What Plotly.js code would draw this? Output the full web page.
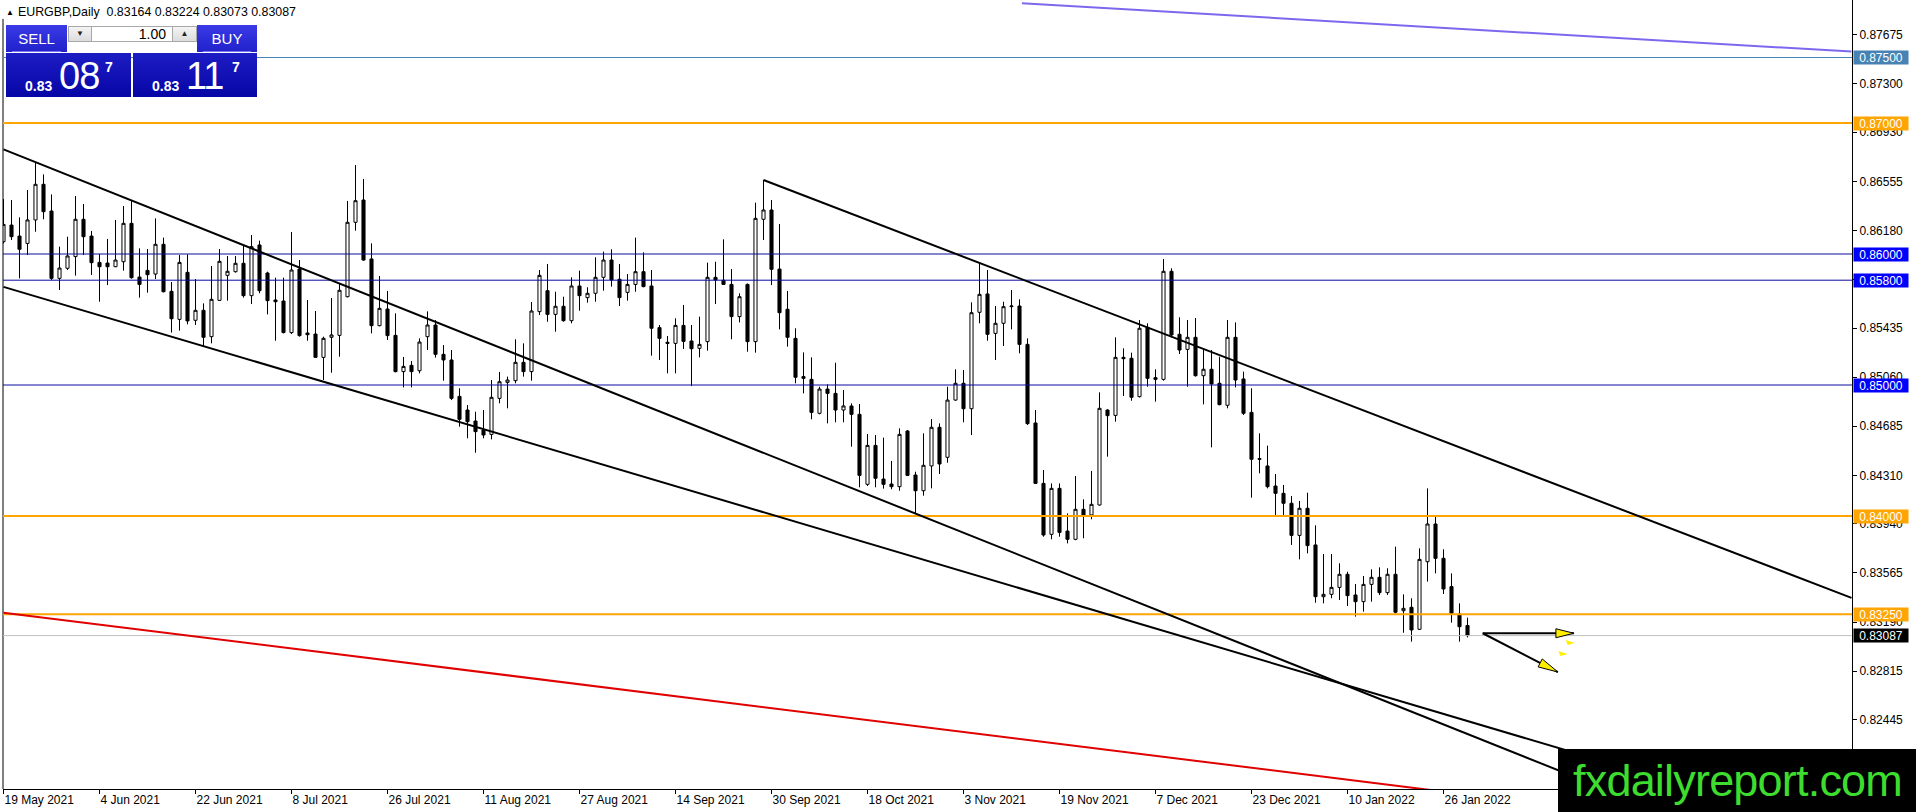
<!DOCTYPE html>
<html>
<head>
<meta charset="utf-8">
<script src="https://cdn.plot.ly/plotly-3.0.1.min.js"></script>
<style>
  body { margin: 0; background: #fff; }
  #wrap { position: relative; width: 1916px; height: 812px; overflow: hidden; font-family: 'Liberation Sans', Arial, sans-serif; }
  #chart { position: absolute; left: 0; top: 0; width: 1916px; height: 812px; }
  .abs { position: absolute; }
  #hdr { left: 6px; top: 5px; font-size: 12.4px; color: #000; white-space: pre; line-height: 14px; }
  #hdr .tri { font-size: 8px; vertical-align: 1px; margin-right: 4px; }
  .topbtn { top: 25px; height: 27px; line-height: 27px; color: #fff; font-size: 15px; text-align: center;
            background: linear-gradient(#3a3ae6, #2222cc); }
  .sep { position: absolute; left: 6px; right: 6px; bottom: 0; height: 1px; background: #7a7af2; }
  .spin { top: 26px; height: 16px; background: linear-gradient(#f4f4f4, #dcdcdc); border: 1px solid #a8a8a8; box-sizing: border-box;
          font-size: 8px; text-align: center; line-height: 14px; color: #222; }
  #lot { top: 26px; height: 16px; left: 92px; width: 80px; background: #fff; border-top: 1px solid #a8a8a8; border-bottom: 1px solid #a8a8a8;
         box-sizing: border-box; font-size: 14px; line-height: 14px; text-align: right; padding-right: 6px; color: #000; }
  .pbox { top: 53px; height: 44px; background: linear-gradient(#1c1cc4, #0606a6); color: #fff; }
  .small { position: absolute; font-weight: bold; font-size: 14px; top: 25px; }
  .big { position: absolute; font-size: 38px; top: 2px; letter-spacing: -1px; }
  .sup { position: absolute; font-weight: bold; font-size: 14px; top: 6px; }
  #logo { left: 1558px; top: 749px; width: 358px; height: 63px; background: #000; color: #3ddc2e;
          font-size: 45px; letter-spacing: -0.8px; line-height: 63px; padding-left: 15px; box-sizing: border-box; white-space: nowrap; }
</style>
</head>
<body>
<div id="wrap">
  <div id="chart"></div>
  <div id="hdr" class="abs"></div>
  <div class="abs topbtn" style="left:6px;width:61px;">SELL<div class="sep"></div></div>
  <div class="abs spin" style="left:68px;width:24px;">&#9660;</div>
  <div id="lot" class="abs">1.00</div>
  <div class="abs spin" style="left:172px;width:25px;">&#9650;</div>
  <div class="abs topbtn" style="left:197px;width:60px;">BUY<div class="sep"></div></div>
  <div class="abs pbox" style="left:6px;width:125px;">
    <span class="small" style="left:19px;" id="bidA"></span>
    <span class="big" style="left:53px;" id="bidB"></span>
    <span class="sup" style="left:99px;" id="bidC"></span>
  </div>
  <div class="abs pbox" style="left:133px;width:124px;">
    <span class="small" style="left:19px;" id="askA"></span>
    <span class="big" style="left:53px;" id="askB"></span>
    <span class="sup" style="left:99px;" id="askC"></span>
  </div>
  <div id="logo" class="abs">fxdailyreport.com</div>
</div>
<script>
// ---------------- data (EURGBP daily, 19 May 2021 .. 31 Jan 2022) ----------------
const symbol = 'EURGBP,Daily';
const openP = [
0.86094,0.86221,0.86137,0.86081,0.86260,0.86532,0.86328,0.85814,0.85891,0.85980,
0.86265,0.86137,0.85936,0.85931,0.85903,0.85941,0.86234,0.85824,0.85875,0.85847,
0.86074,0.85715,0.85501,0.85860,0.85494,0.85570,0.85369,0.85646,0.85837,0.85865,
0.85929,0.85682,0.86069,0.85855,0.85649,0.85641,0.85400,0.85885,0.85397,0.85389,
0.85211,0.85364,0.85379,0.85674,0.86242,0.86412,0.85962,0.85453,0.85580,0.85379,
0.85102,0.85150,0.85109,0.85369,0.85458,0.85234,0.85191,0.84913,0.84809,0.84725,
0.84656,0.84623,0.84898,0.85020,0.85033,0.85173,0.85102,0.85560,0.85720,0.85539,
0.85601,0.85491,0.85756,0.85667,0.85700,0.85822,0.85954,0.85807,0.85707,0.85768,
0.85865,0.85756,0.85438,0.85326,0.85318,0.85455,0.85336,0.85280,0.85331,0.85822,
0.85799,0.85768,0.85522,0.85768,0.85331,0.86265,0.86336,0.85885,0.85578,0.85356,
0.85064,0.85043,0.84784,0.84969,0.84936,0.84809,0.84840,0.84776,0.84242,0.84539,
0.84282,0.84244,0.84224,0.84649,0.84313,0.84193,0.84382,0.84677,0.84448,0.84885,
0.85013,0.84819,0.85555,0.85695,0.85394,0.85471,0.85598,0.85603,0.85310,0.84710,
0.84249,0.83860,0.84211,0.83885,0.83822,0.84051,0.84008,0.84084,0.84809,0.84768,
0.85211,0.85204,0.84911,0.85440,0.85056,0.85043,0.85868,0.85387,0.85272,0.85364,
0.85071,0.85120,0.85013,0.84845,0.85364,0.85046,0.84791,0.84438,0.84382,0.84229,
0.84173,0.84097,0.83852,0.84059,0.83779,0.83384,0.83402,0.83455,0.83555,0.83397,
0.83346,0.83478,0.83532,0.83415,0.83555,0.83277,0.83303,0.83135,0.83651,0.83939,
0.83677,0.83461,0.83252,0.83164];
const highP = [
0.86420,0.86412,0.86280,0.86489,0.86700,0.86608,0.86455,0.86056,0.86132,0.86443,
0.86382,0.86176,0.86000,0.86115,0.86260,0.86366,0.86412,0.86043,0.86038,0.86272,
0.86125,0.85786,0.85992,0.85997,0.85809,0.85623,0.85908,0.86038,0.85985,0.85985,
0.86069,0.86145,0.86102,0.85865,0.85819,0.85819,0.86168,0.85954,0.85649,0.85565,
0.85369,0.85664,0.85776,0.86405,0.86679,0.86573,0.86081,0.85832,0.85718,0.85547,
0.85214,0.85183,0.85356,0.85562,0.85496,0.85305,0.85267,0.84975,0.84847,0.84796,
0.84809,0.85038,0.85100,0.85064,0.85349,0.85318,0.85634,0.85878,0.85924,0.85712,
0.85674,0.85822,0.85873,0.85746,0.85975,0.86018,0.86036,0.85924,0.85847,0.86125,
0.86013,0.85878,0.85458,0.85374,0.85509,0.85611,0.85458,0.85522,0.85934,0.85941,
0.86112,0.85885,0.85700,0.85775,0.86392,0.86565,0.86412,0.86229,0.85718,0.85433,
0.85249,0.85211,0.84987,0.85005,0.85170,0.84962,0.84860,0.84855,0.84626,0.84618,
0.84598,0.84420,0.84669,0.84656,0.84338,0.84631,0.84740,0.84707,0.84987,0.85120,
0.85115,0.85631,0.85929,0.85878,0.85603,0.85636,0.85725,0.85654,0.85356,0.84809,
0.84351,0.84249,0.84249,0.84020,0.84305,0.84127,0.84344,0.84944,0.84815,0.85364,
0.85280,0.85247,0.85496,0.85471,0.85120,0.85962,0.85891,0.85517,0.85496,0.85511,
0.85272,0.85267,0.85216,0.85496,0.85478,0.85102,0.84975,0.84631,0.84537,0.84321,
0.84237,0.84153,0.84115,0.84178,0.83929,0.83710,0.83710,0.83639,0.83575,0.83481,
0.83542,0.83593,0.83608,0.83601,0.83766,0.83402,0.83372,0.83753,0.84211,0.83995,
0.83746,0.83562,0.83333,0.83224];
const lowP = [
0.86081,0.86107,0.85814,0.85992,0.86170,0.86265,0.85802,0.85725,0.85878,0.85835,
0.85992,0.85840,0.85636,0.85763,0.85900,0.85873,0.85812,0.85667,0.85705,0.85809,
0.85707,0.85400,0.85415,0.85463,0.85458,0.85298,0.85318,0.85644,0.85644,0.85858,
0.85667,0.85618,0.85700,0.85539,0.85338,0.85394,0.85389,0.85369,0.85338,0.85206,
0.85038,0.85094,0.85216,0.85669,0.86178,0.85949,0.85394,0.85448,0.85344,0.85097,
0.84982,0.84982,0.85089,0.85267,0.85209,0.85033,0.84885,0.84682,0.84593,0.84483,
0.84593,0.84585,0.84860,0.84822,0.85013,0.85064,0.85033,0.85534,0.85483,0.85407,
0.85483,0.85471,0.85567,0.85629,0.85636,0.85720,0.85751,0.85603,0.85644,0.85712,
0.85746,0.85224,0.85191,0.85089,0.85089,0.85275,0.84992,0.85211,0.85262,0.85618,
0.85765,0.85349,0.85478,0.85254,0.85247,0.86107,0.85763,0.85425,0.85293,0.85013,
0.84936,0.84738,0.84776,0.84707,0.84715,0.84715,0.84529,0.84219,0.84229,0.84219,
0.84209,0.84204,0.84193,0.84305,0.84020,0.84155,0.84211,0.84321,0.84407,0.84880,
0.84715,0.84618,0.85471,0.85338,0.85191,0.85298,0.85425,0.85242,0.84695,0.84244,
0.83842,0.83822,0.83842,0.83791,0.83815,0.83830,0.83975,0.84080,0.84453,0.84720,
0.84916,0.84880,0.84905,0.84987,0.84873,0.85033,0.85364,0.85237,0.84987,0.85064,
0.84852,0.84524,0.84845,0.84822,0.84982,0.84771,0.84140,0.84326,0.84211,0.84008,
0.84008,0.83779,0.83669,0.83715,0.83338,0.83333,0.83372,0.83359,0.83313,0.83232,
0.83270,0.83346,0.83397,0.83397,0.83257,0.83109,0.83041,0.83130,0.83499,0.83562,
0.83405,0.83186,0.83041,0.83073];
const closeP = [
0.86226,0.86132,0.86036,0.86260,0.86532,0.86323,0.85814,0.85893,0.85985,0.86265,
0.86132,0.85934,0.85903,0.85903,0.85954,0.86234,0.85819,0.85768,0.85842,0.86074,
0.85712,0.85506,0.85936,0.85489,0.85570,0.85364,0.85654,0.85944,0.85868,0.85929,
0.85682,0.86056,0.85720,0.85644,0.85636,0.85400,0.85878,0.85377,0.85384,0.85211,
0.85356,0.85382,0.85723,0.86242,0.86407,0.85954,0.85453,0.85585,0.85377,0.85102,
0.85142,0.85102,0.85328,0.85458,0.85234,0.85191,0.84898,0.84738,0.84720,0.84644,
0.84618,0.84906,0.85025,0.85038,0.85173,0.85102,0.85565,0.85837,0.85539,0.85601,
0.85491,0.85756,0.85682,0.85700,0.85822,0.85954,0.85802,0.85667,0.85768,0.85865,
0.85751,0.85433,0.85356,0.85318,0.85455,0.85333,0.85277,0.85310,0.85822,0.85802,
0.85768,0.85522,0.85674,0.85331,0.86272,0.86336,0.85883,0.85552,0.85364,0.85059,
0.85051,0.84791,0.84969,0.84936,0.84809,0.84840,0.84776,0.84310,0.84539,0.84288,
0.84242,0.84224,0.84623,0.84310,0.84193,0.84387,0.84677,0.84397,0.84885,0.85013,
0.84819,0.85552,0.85692,0.85387,0.85471,0.85598,0.85603,0.85310,0.84705,0.84249,
0.83855,0.84211,0.83875,0.83822,0.84051,0.84008,0.84089,0.84822,0.84766,0.85211,
0.85201,0.84906,0.85433,0.85051,0.85043,0.85868,0.85382,0.85267,0.85364,0.85071,
0.85120,0.85008,0.84850,0.85364,0.85038,0.84784,0.84433,0.84433,0.84224,0.84173,
0.84097,0.83852,0.84059,0.83774,0.83384,0.83402,0.83455,0.83555,0.83392,0.83346,
0.83478,0.83532,0.83415,0.83555,0.83265,0.83295,0.83130,0.83669,0.83939,0.83677,
0.83443,0.83257,0.83155,0.83087];

// time-axis labels, one every 12 bars starting at bar 0
const tickLabels = ['19 May 2021','4 Jun 2021','22 Jun 2021','8 Jul 2021','26 Jul 2021','11 Aug 2021',
  '27 Aug 2021','14 Sep 2021','30 Sep 2021','18 Oct 2021','3 Nov 2021','19 Nov 2021','7 Dec 2021',
  '23 Dec 2021','10 Jan 2022','26 Jan 2022'];
const barsPerLabel = 12;

// price-axis labels
const priceTicks = [0.87675,0.87300,0.86930,0.86555,0.86180,0.85805,0.85435,0.85060,0.84685,0.84310,
  0.83940,0.83565,0.83190,0.82815,0.82445];

// horizontal levels
const levelPrices = [0.8750, 0.8700, 0.8600, 0.8580, 0.8500, 0.8400, 0.8325];
const levelKinds  = ['steel','orange','blue','blue','blue','orange','orange'];
const bidPrice = 0.83087;
const askPrice = 0.83117;

// trend lines: [bar0, price0, bar1, price1]
const trendBlackUpper = [0, 0.86799, 231, 0.81165];
const trendBlackLower = [0, 0.85749, 231, 0.81566];
const trendBlackRight = [95, 0.86565, 231, 0.83375];
const trendPurple     = [127.3, 0.87914, 231, 0.87545];
const trendRed        = [0, 0.83262, 231, 0.81509];
// projection arrows: start bar/price, ends
const arrowStart = [184.9, 0.83105];
const arrowFlatEnd = [196.3, 0.83105];
const arrowDownEnd = [194.3, 0.82809];
const yellowMarks = [[195.9, 0.83038], [195.0, 0.82954]];

// ---------------- styles ----------------
const kindStyle = {
  steel:  {line: '#4682B4', width: 1, label: '#4682B4'},
  orange: {line: '#FFA500', width: 2, label: '#FFA500'},
  blue:   {line: '#0a0aa0', width: 1, label: '#0000FF'}
};
const FONT = 'Liberation Sans, Arial, sans-serif';

const idx = openP.map((_, i) => i);

const trace = {
  type: 'candlestick',
  x: idx, open: openP, high: highP, low: lowP, close: closeP,
  increasing: {line: {color: '#000', width: 1}, fillcolor: '#ffffff'},
  decreasing: {line: {color: '#000', width: 1}, fillcolor: '#000000'},
  whiskerwidth: 0,
  hoverinfo: 'skip',
  showlegend: false
};

const shapes = [];
const annotations = [];

// left frame line
shapes.push({type: 'line', xref: 'paper', yref: 'paper', x0: 0, x1: 0, y0: 0, y1: 0.976,
  line: {color: '#000', width: 1}});

// bid line
shapes.push({type: 'line', xref: 'paper', yref: 'y', x0: 0, x1: 1, y0: bidPrice, y1: bidPrice,
  line: {color: '#c0c0c0', width: 1}});

levelPrices.forEach((p, k) => {
  const st = kindStyle[levelKinds[k]];
  shapes.push({type: 'line', xref: 'paper', yref: 'y', x0: 0, x1: 1, y0: p, y1: p,
    line: {color: st.line, width: st.width}});
  annotations.push({xref: 'paper', yref: 'y', x: 1, y: p, xanchor: 'left', yanchor: 'middle', xshift: 1,
    text: p.toFixed(5), showarrow: false, bgcolor: st.label, width: 54, height: 13, borderpad: 0,
    font: {family: FONT, size: 12, color: '#fff'}, align: 'center'});
});
annotations.push({xref: 'paper', yref: 'y', x: 1, y: bidPrice, xanchor: 'left', yanchor: 'middle', xshift: 1,
  text: bidPrice.toFixed(5), showarrow: false, bgcolor: '#000', width: 54, height: 13, borderpad: 0,
  font: {family: FONT, size: 12, color: '#fff'}, align: 'center'});

function tl(t, color, width) {
  shapes.push({type: 'line', xref: 'x', yref: 'y', x0: t[0], y0: t[1], x1: t[2], y1: t[3],
    line: {color: color, width: width}});
}
tl(trendBlackUpper, '#000', 2);
tl(trendBlackLower, '#000', 2);
tl(trendBlackRight, '#000', 2);
tl(trendPurple, '#7b68ee', 2);
tl(trendRed, '#e00000', 2);

// arrows
shapes.push({type: 'line', xref: 'x', yref: 'y', x0: arrowStart[0], y0: arrowStart[1], x1: arrowFlatEnd[0], y1: arrowFlatEnd[1],
  line: {color: '#000', width: 2}});
shapes.push({type: 'line', xref: 'x', yref: 'y', x0: arrowStart[0], y0: arrowStart[1], x1: arrowDownEnd[0], y1: arrowDownEnd[1],
  line: {color: '#000', width: 2}});
function head(tip, path) {
  shapes.push({type: 'path', xref: 'x', yref: 'y', xsizemode: 'pixel', ysizemode: 'pixel',
    xanchor: tip[0], yanchor: tip[1], path: path, fillcolor: '#ffee00', line: {color: '#000', width: 1}});
}
head(arrowFlatEnd, 'M 0 0 L -18 4.5 L -18 -4.5 Z');
head(arrowDownEnd, 'M 0 0 L -15.7 13.1 L -19.8 5.1 Z');
yellowMarks.forEach(m => {
  shapes.push({type: 'path', xref: 'x', yref: 'y', xsizemode: 'pixel', ysizemode: 'pixel',
    xanchor: m[0], yanchor: m[1], path: 'M -5 2 L 4 -1 L -3 -3 Z', fillcolor: '#ffee00', line: {width: 0}});
});

const layout = {
  width: 1916, height: 812,
  margin: {l: 3, r: 64, t: 0, b: 23, pad: 0},
  paper_bgcolor: '#fff', plot_bgcolor: '#fff',
  showlegend: false,
  boxgap: 0.45,
  xaxis: {
    range: [-0.0625, 231.0625], rangeslider: {visible: false},
    tickvals: tickLabels.map((_, k) => k * barsPerLabel), ticktext: tickLabels,
    ticks: 'outside', ticklen: 4, tickcolor: '#000', ticklabelposition: 'outside right',
    showgrid: false, zeroline: false, showline: true, linecolor: '#000', linewidth: 1,
    tickfont: {family: FONT, size: 12, color: '#000'}, fixedrange: true
  },
  yaxis: {
    side: 'right', range: [0.81916, 0.87939],
    tickvals: priceTicks, ticktext: priceTicks.map(v => v.toFixed(5)),
    ticks: 'outside', ticklen: 4, tickcolor: '#000',
    showgrid: false, zeroline: false, showline: true, linecolor: '#000', linewidth: 1,
    tickfont: {family: FONT, size: 12, color: '#000'}, fixedrange: true
  },
  shapes: shapes,
  annotations: annotations
};

Plotly.newPlot('chart', [trace], layout, {staticPlot: true, displayModeBar: false});

// header and one-click panel text from the data
const last = openP.length - 1;
document.getElementById('hdr').innerHTML = '<span class="tri">&#9650;</span>' + symbol + '  ' +
  [openP[last], highP[last], lowP[last], closeP[last]].map(v => v.toFixed(5)).join(' ');
function splitPrice(p, a, b, c) {
  const s = p.toFixed(5);
  document.getElementById(a).textContent = s.slice(0, 4);
  document.getElementById(b).textContent = s.slice(4, 6);
  document.getElementById(c).textContent = s.slice(6);
}
splitPrice(bidPrice, 'bidA', 'bidB', 'bidC');
splitPrice(askPrice, 'askA', 'askB', 'askC');
</script>
</body>
</html>
